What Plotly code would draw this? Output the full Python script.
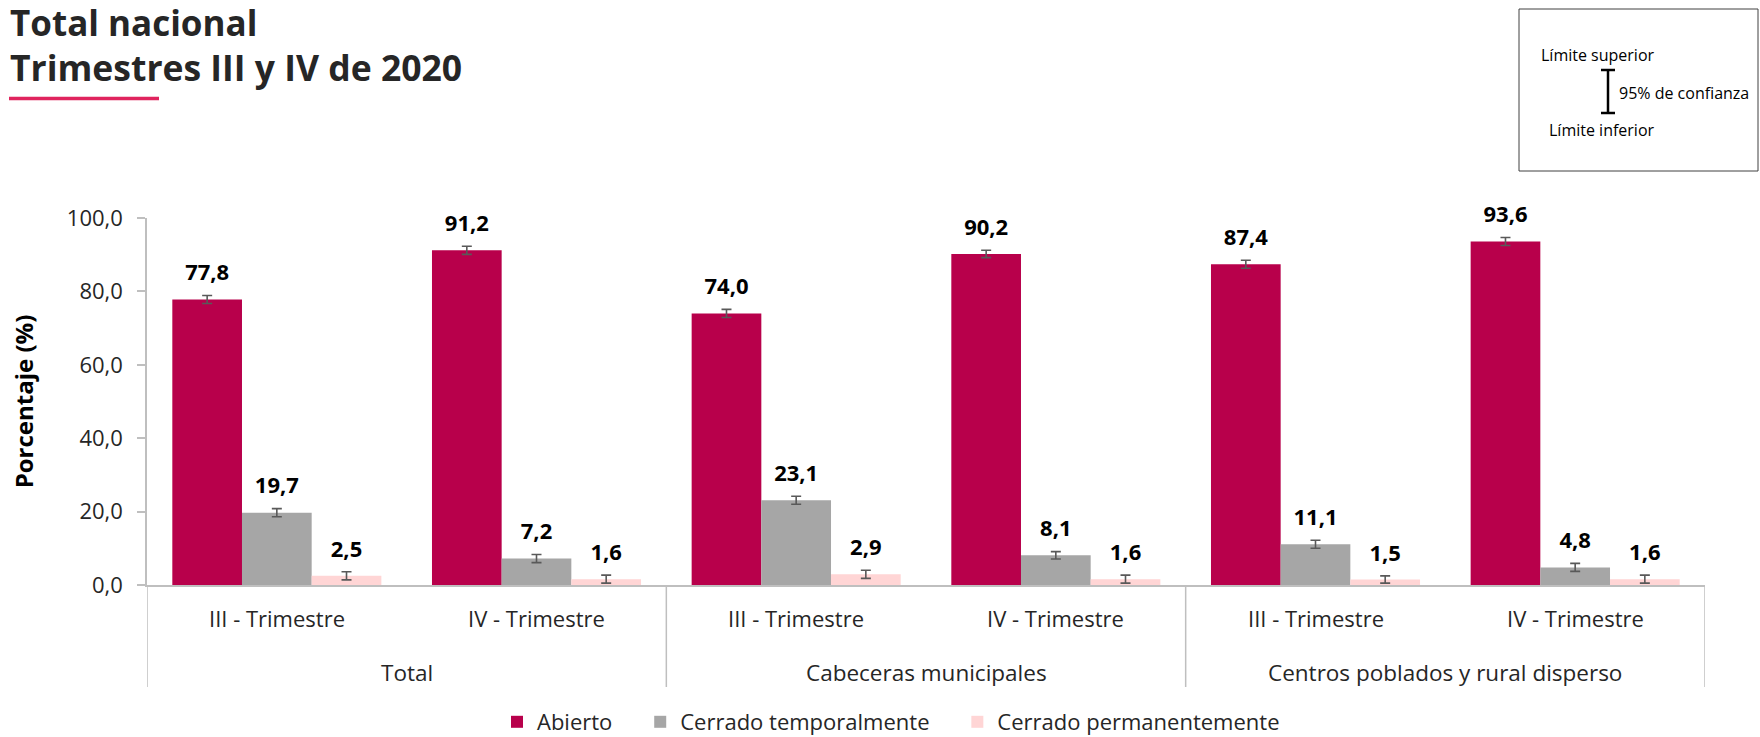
import plotly.graph_objects as go

groups = ["Total", "Cabeceras municipales", "Centros poblados y rural disperso"]
periods = ["III - Trimestre", "IV - Trimestre"]
series_names = ["Abierto", "Cerrado temporalmente", "Cerrado permanentemente"]

abierto = [77.8, 91.2, 74.0, 90.2, 87.4, 93.6]
cerrado_temp = [19.7, 7.2, 23.1, 8.1, 11.1, 4.8]
cerrado_perm = [2.5, 1.6, 2.9, 1.6, 1.5, 1.6]

err_abierto = [1.1, 1.1, 1.1, 1.0, 1.1, 1.1]
err_temp = [1.1, 1.1, 1.1, 1.0, 1.1, 1.1]
err_perm = [1.1, 1.1, 1.1, 1.1, 1.0, 1.1]

colors = ["#B8004B", "#A6A6A6", "#FFD5D5"]

cats = [f"{g} | {p}" for g in groups for p in periods]
sub_labels = [p for g in groups for p in periods]

FONT = "Open Sans"
TXT = "#262626"
FIG_W, FIG_H = 1760, 737

# plot area in pixels
L, R, T, B = 147, 1705, 218, 585
W, H = R - L, B - T


def px(x):
    return (x - L) / W


def py(y):
    return (B - y) / H


NB = "\u00a0"
legend_names = [series_names[0] + NB * 4, series_names[1] + NB * 4, series_names[2]]

fig = go.Figure()
values = [abierto, cerrado_temp, cerrado_perm]
errs = [err_abierto, err_temp, err_perm]
for name, lname, vals, er, col in zip(series_names, legend_names, values, errs, colors):
    fig.add_trace(go.Bar(
        x=cats, y=vals, name=lname,
        marker=dict(color=col, line=dict(width=0)),
        error_y=dict(type="data", array=er, visible=True, color="#595959",
                     thickness=1.6, width=5),
        hovertemplate=name + ": %{y}<extra></extra>",
    ))
for name, vals, er in zip(series_names, values, errs):
    fig.add_trace(go.Scatter(
        x=cats, y=[v + e for v, e in zip(vals, er)],
        mode="markers+text",
        text=[f"{v:.1f}".replace(".", ",") for v in vals],
        textposition="top center",
        textfont=dict(family=FONT, size=22, color="#000000", weight="bold"),
        marker=dict(size=14, opacity=0),
        showlegend=False, hoverinfo="skip", cliponaxis=False,
    ))

shapes = []
# group dividers
for xv in [-0.5, 1.5, 3.5, 5.5]:
    shapes.append(dict(type="line", xref="x", yref="paper", x0=xv, x1=xv,
                       y0=0, y1=py(687), line=dict(color="#BFBFBF", width=1.5)))
# title underline
shapes.append(dict(type="line", xref="paper", yref="paper", x0=px(9), x1=px(159),
                   y0=py(98.5), y1=py(98.5), line=dict(color="#E0245E", width=3.5)))
# confidence box
shapes.append(dict(type="rect", xref="paper", yref="paper", x0=px(1519), x1=px(1758),
                   y0=py(171), y1=py(9), line=dict(color="#404040", width=1)))
# I-beam symbol
bx = 1608
shapes.append(dict(type="line", xref="paper", yref="paper", x0=px(bx), x1=px(bx),
                   y0=py(70), y1=py(113), line=dict(color="#000000", width=2.5)))
for yy in (70, 113):
    shapes.append(dict(type="line", xref="paper", yref="paper", x0=px(bx - 7), x1=px(bx + 7),
                       y0=py(yy), y1=py(yy), line=dict(color="#000000", width=2.5)))

annotations = []
for i, s in enumerate(sub_labels):
    annotations.append(dict(text=s, x=i, xref="x", y=py(618), yref="paper",
                            showarrow=False, xanchor="center", yanchor="middle",
                            font=dict(family=FONT, size=22, color=TXT)))
for j, g in enumerate(groups):
    annotations.append(dict(text=g, x=2 * j + 0.5, xref="x", y=py(672), yref="paper",
                            showarrow=False, xanchor="center", yanchor="middle",
                            font=dict(family=FONT, size=22.5, color=TXT)))
annotations.append(dict(text="Total nacional", x=px(8), y=py(22), xref="paper", yref="paper",
                        xanchor="left", yanchor="middle", showarrow=False,
                        font=dict(family=FONT, size=35, color=TXT, weight="bold")))
annotations.append(dict(text="Trimestres III y IV de 2020", x=px(8), y=py(67), xref="paper",
                        yref="paper", xanchor="left", yanchor="middle", showarrow=False,
                        font=dict(family=FONT, size=35.5, color=TXT, weight="bold")))
annotations.append(dict(text="Límite superior", x=px(1598), y=py(55), xref="paper", yref="paper",
                        xanchor="center", yanchor="middle", showarrow=False,
                        font=dict(family=FONT, size=16, color="#000000")))
annotations.append(dict(text="Límite inferior", x=px(1602), y=py(130), xref="paper", yref="paper",
                        xanchor="center", yanchor="middle", showarrow=False,
                        font=dict(family=FONT, size=16, color="#000000")))
annotations.append(dict(text="95% de confianza", x=px(1617), y=py(93), xref="paper", yref="paper",
                        xanchor="left", yanchor="middle", showarrow=False,
                        font=dict(family=FONT, size=16, color="#000000")))

fig.update_layout(
    width=FIG_W, height=FIG_H, autosize=False,
    margin=dict(l=L, r=FIG_W - R, t=T, b=FIG_H - B, autoexpand=False),
    paper_bgcolor="white", plot_bgcolor="white",
    barmode="group", bargap=0.195, bargroupgap=0,
    scattermode="group", scattergap=0.195,
    separators=",.",
    font=dict(family=FONT, color=TXT),
    showlegend=True,
    legend=dict(orientation="h", xref="container", yref="container",
                x=(513 - 16) / FIG_W, xanchor="left", y=(FIG_H - 722) / FIG_H, yanchor="middle",
                font=dict(family=FONT, size=22, color=TXT), traceorder="normal",
                itemwidth=30),
    xaxis=dict(type="category", range=[-0.5, 5.5], showticklabels=False, ticks="",
               showline=True, linecolor="#BFBFBF", linewidth=1.5, showgrid=False,
               zeroline=False, fixedrange=True, automargin=False),
    yaxis=dict(range=[0, 100], dtick=20, tick0=0, tickformat=".1f", ticks="outside",
               ticklen=8, tickcolor="#BFBFBF", tickwidth=1.5, showline=True,
               linecolor="#BFBFBF", linewidth=1.5, showgrid=False, zeroline=False,
               automargin=False,
               tickfont=dict(family=FONT, size=22, color=TXT), ticklabelstandoff=10,
               title=dict(text="Porcentaje (%)", standoff=26,
                          font=dict(family=FONT, size=24, color="#000000", weight="bold"))),
    shapes=shapes,
    annotations=annotations,
)

fig.write_html(
    "out.html",
    config={"displayModeBar": False},
    post_script="document.body.style.margin='0';document.body.style.overflow='hidden';",
)
